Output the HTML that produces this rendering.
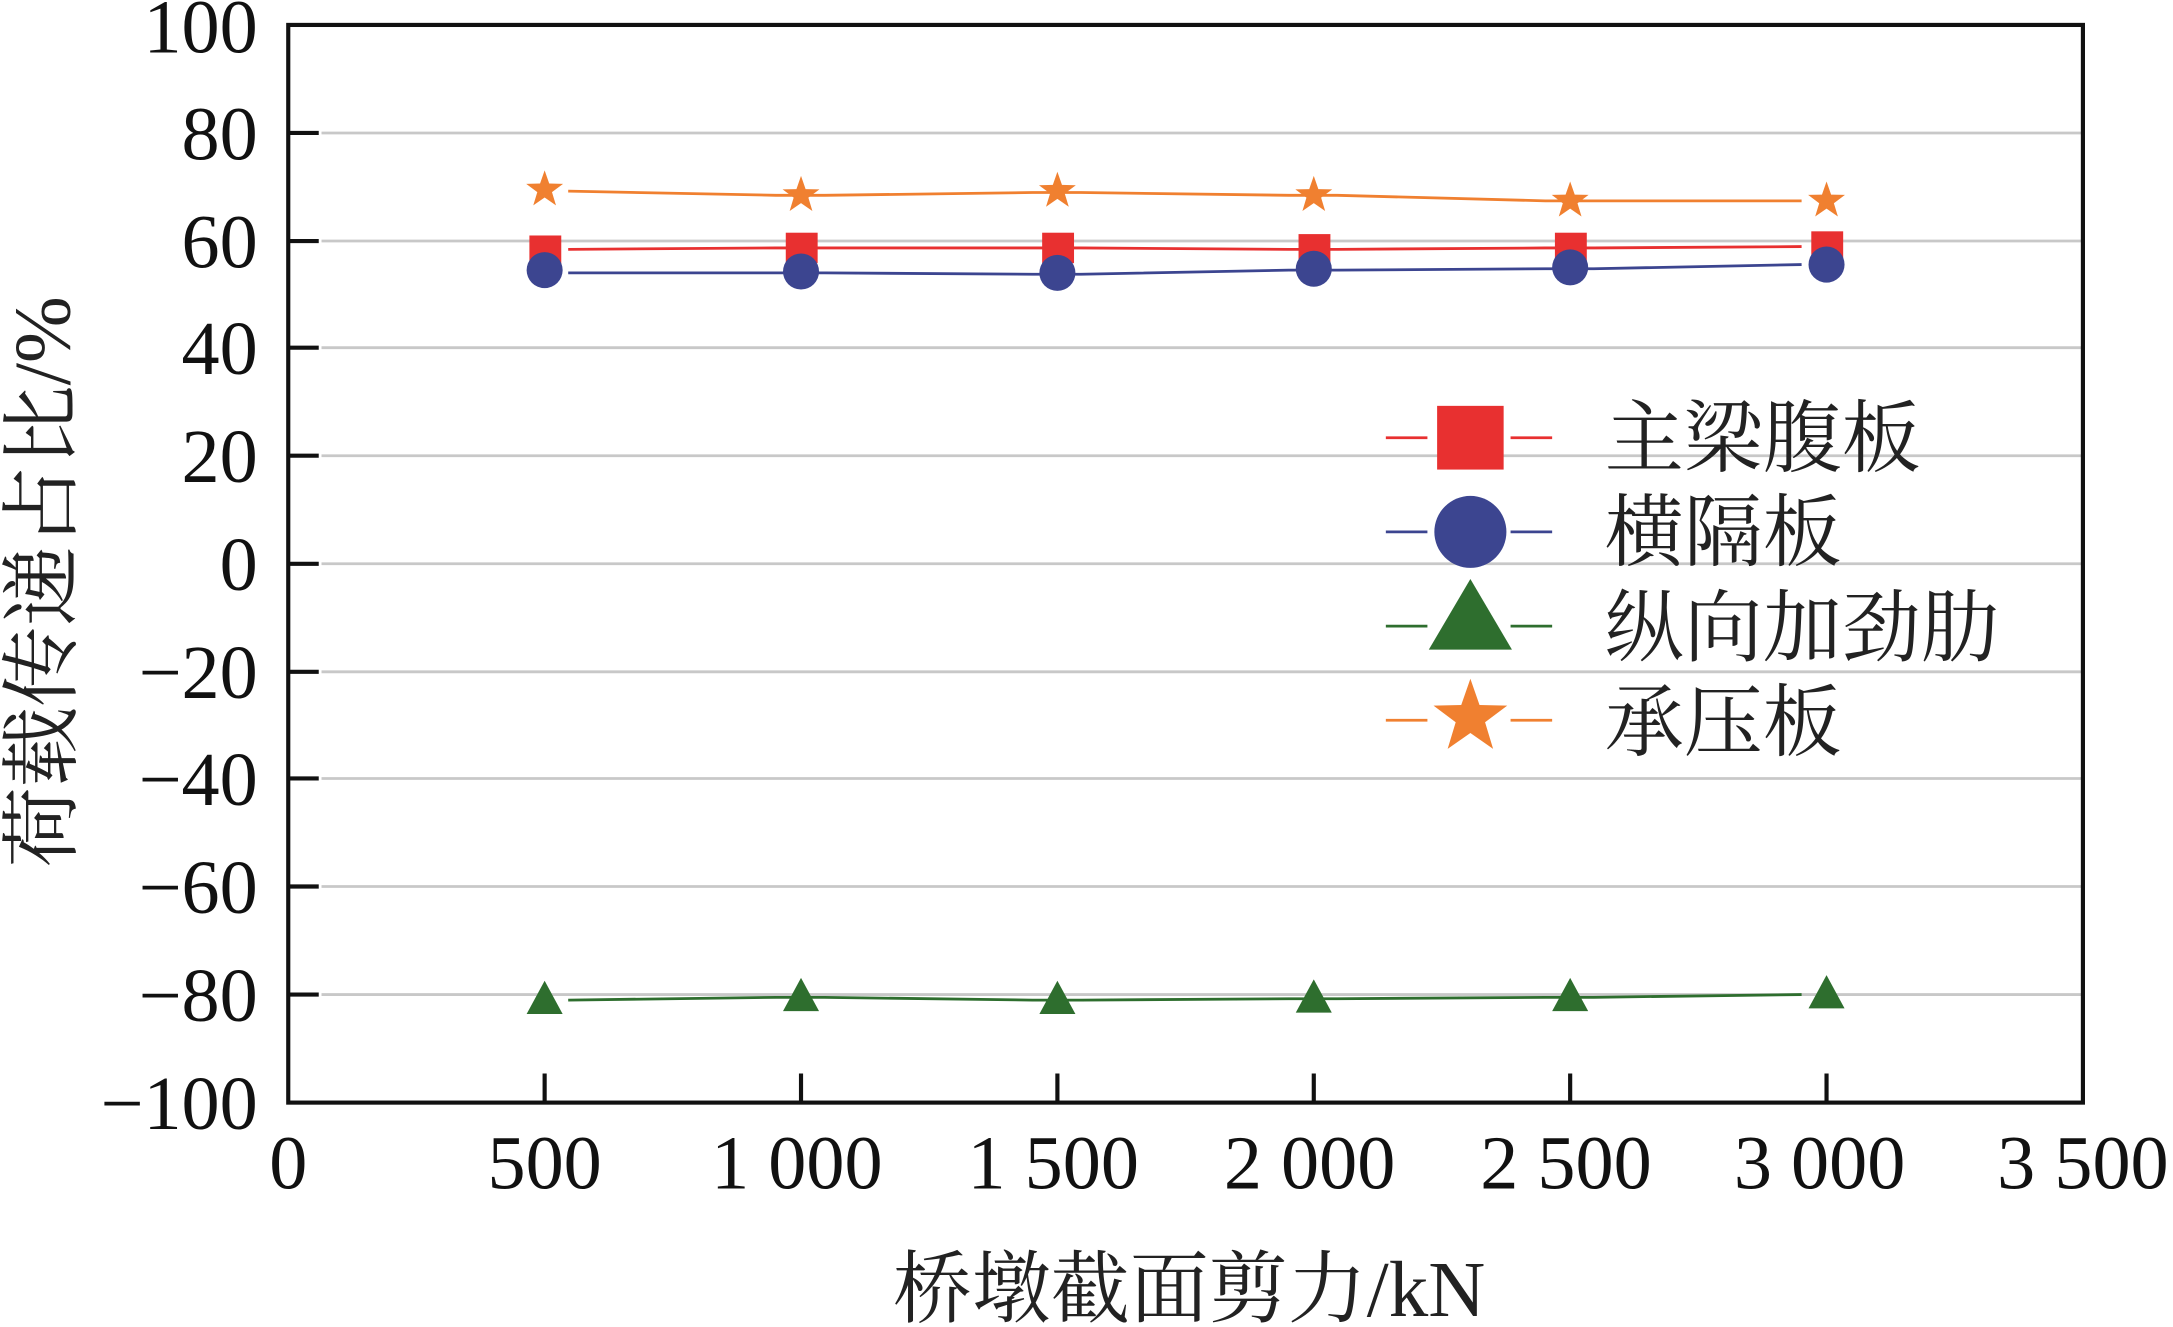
<!DOCTYPE html>
<html><head><meta charset="utf-8"><style>html,body{margin:0;padding:0;background:#fff}svg{display:block}</style></head><body>
<svg width="2173" height="1327" viewBox="0 0 1568 958" preserveAspectRatio="none" xmlns="http://www.w3.org/2000/svg">
<g stroke="#c8c8c8" stroke-width="2">
<line x1="232" y1="96" x2="1503" y2="96"/><line x1="232" y1="174" x2="1503" y2="174"/><line x1="232" y1="251" x2="1503" y2="251"/><line x1="232" y1="329" x2="1503" y2="329"/><line x1="232" y1="407" x2="1503" y2="407"/><line x1="232" y1="485" x2="1503" y2="485"/><line x1="232" y1="562" x2="1503" y2="562"/><line x1="232" y1="640" x2="1503" y2="640"/><line x1="232" y1="718" x2="1503" y2="718"/>
</g>
<g stroke="#111" stroke-width="3">
<line x1="208" y1="96" x2="230" y2="96"/><line x1="208" y1="174" x2="230" y2="174"/><line x1="208" y1="251" x2="230" y2="251"/><line x1="208" y1="329" x2="230" y2="329"/><line x1="208" y1="407" x2="230" y2="407"/><line x1="208" y1="485" x2="230" y2="485"/><line x1="208" y1="562" x2="230" y2="562"/><line x1="208" y1="640" x2="230" y2="640"/><line x1="208" y1="718" x2="230" y2="718"/>
<line x1="393" y1="796" x2="393" y2="775"/><line x1="578" y1="796" x2="578" y2="775"/><line x1="763" y1="796" x2="763" y2="775"/><line x1="948" y1="796" x2="948" y2="775"/><line x1="1133" y1="796" x2="1133" y2="775"/><line x1="1318" y1="796" x2="1318" y2="775"/>
</g>
<rect x="208" y="18" width="1295" height="778" fill="none" stroke="#111" stroke-width="3"/>
<g font-family="Liberation Serif, serif" font-size="55" text-anchor="end" fill="#111">
<text x="186" y="38">100</text><text x="186" y="115">80</text><text x="186" y="193">60</text><text x="186" y="270">40</text><text x="186" y="348">20</text><text x="186" y="426">0</text><text x="186" y="504">−20</text><text x="186" y="581">−40</text><text x="186" y="659">−60</text><text x="186" y="737">−80</text><text x="186" y="815">−100</text>
</g>
<g font-family="Liberation Serif, serif" font-size="55" text-anchor="middle" fill="#111">
<text x="208" y="858">0</text><text x="393" y="858">500</text><text x="575" y="858">1 000</text><text x="760" y="858">1 500</text><text x="945" y="858">2 000</text><text x="1130" y="858">2 500</text><text x="1313" y="858">3 000</text><text x="1503" y="858">3 500</text>
</g>
<text x="858" y="950" font-family="Liberation Serif, 'Noto Serif CJK SC', serif" font-size="57" text-anchor="middle" fill="#222">桥墩截面剪力/kN</text>
<text transform="translate(50,420) rotate(-90)" font-family="Liberation Serif, 'Noto Serif CJK SC', serif" font-size="58" text-anchor="middle" fill="#222">荷载传递占比/%</text>
<g fill="none" stroke-width="2">
<polyline stroke="#f08030" points="410,138 560,141 595,141 745,139 780,139 930,141 965,141 1115,145 1150,145 1300,145"/>
<polyline stroke="#e83030" points="410,180 560,179 595,179 745,179 780,179 930,180 965,180 1115,179 1150,179 1300,178"/>
<polyline stroke="#3c4590" points="410,197 560,197 595,197 745,198 780,198 930,195 965,195 1115,194 1150,194 1300,191"/>
<polyline stroke="#2e6e2e" points="410,722 560,720 595,720 745,722 780,722 930,721 965,721 1115,720 1150,720 1300,718"/>
</g>
<defs>
<polygon id="st" points="0,-14 3.3,-4.5 13.3,-4.3 5.3,1.7 8.2,11.3 0,5.6 -8.2,11.3 -5.3,1.7 -13.3,-4.3 -3.3,-4.5" fill="#f08030"/>
</defs>
<g fill="#e83030">
<rect x="382" y="170" width="23" height="22"/><rect x="567" y="168" width="23" height="22"/><rect x="752" y="168" width="23" height="22"/><rect x="937" y="169" width="23" height="22"/><rect x="1122" y="168" width="23" height="22"/><rect x="1307" y="167" width="23" height="22"/>
</g>
<g fill="#3c4590">
<ellipse cx="393" cy="195" rx="13" ry="13"/><ellipse cx="578" cy="196" rx="13" ry="13"/><ellipse cx="763" cy="197" rx="13" ry="13"/><ellipse cx="948" cy="194" rx="13" ry="13"/><ellipse cx="1133" cy="193" rx="13" ry="13"/><ellipse cx="1318" cy="191" rx="13" ry="13"/>
</g>
<g fill="#2e6e2e">
<polygon points="393,708 380,732 406,732"/><polygon points="578,706 565,730 591,730"/><polygon points="763,708 750,732 776,732"/><polygon points="948,707 935,731 961,731"/><polygon points="1133,706 1120,730 1146,730"/><polygon points="1318,704 1305,728 1331,728"/>
</g>
<use href="#st" x="393" y="137"/><use href="#st" x="578" y="141"/><use href="#st" x="763" y="138"/><use href="#st" x="948" y="141"/><use href="#st" x="1133" y="145"/><use href="#st" x="1318" y="145"/>
<g stroke-width="2">
<line x1="1000" y1="316" x2="1030" y2="316" stroke="#e83030"/><line x1="1090" y1="316" x2="1120" y2="316" stroke="#e83030"/>
<line x1="1000" y1="384" x2="1030" y2="384" stroke="#3c4590"/><line x1="1090" y1="384" x2="1120" y2="384" stroke="#3c4590"/>
<line x1="1000" y1="452" x2="1030" y2="452" stroke="#2e6e2e"/><line x1="1090" y1="452" x2="1120" y2="452" stroke="#2e6e2e"/>
<line x1="1000" y1="520" x2="1030" y2="520" stroke="#f08030"/><line x1="1090" y1="520" x2="1120" y2="520" stroke="#f08030"/>
</g>
<rect x="1037" y="293" width="48" height="46" fill="#e83030"/>
<circle cx="1061" cy="384" r="26" fill="#3c4590"/>
<polygon points="1061,418 1031,469 1091,469" fill="#2e6e2e"/>
<use href="#st" transform="translate(1061,518) scale(2)"/>
<g font-family="Liberation Serif, 'Noto Serif CJK SC', serif" font-size="57" fill="#222">
<text x="1158" y="336">主梁腹板</text><text x="1158" y="404">横隔板</text><text x="1158" y="473">纵向加劲肋</text><text x="1158" y="541">承压板</text>
</g>
</svg>
</body></html>
